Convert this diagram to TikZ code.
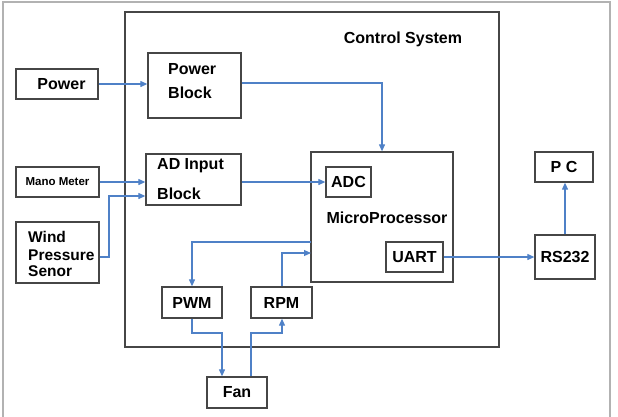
\documentclass[tikz,border=0pt]{standalone}
\usepackage{fontspec}
\setmainfont{Liberation Sans}
\usetikzlibrary{arrows.meta}
\definecolor{wire}{RGB}{79,129,199}
\definecolor{boxline}{RGB}{70,70,70}
\definecolor{framegray}{RGB}{178,178,178}
\tikzset{
  blk/.style={draw=boxline, line width=1.3pt, fill=white, inner sep=0pt,
    font=\bfseries\fontsize{16}{18}\selectfont, align=left},
  lbl/.style={inner sep=0pt, font=\bfseries\fontsize{16}{18}\selectfont},
  wireline/.style={draw=wire, line width=1.1pt},
  flow/.style={wireline, -{Triangle[length=7pt,width=6pt]}},
}
\begin{document}
\begin{tikzpicture}[x=1pt, y=-1pt]
  \useasboundingbox (0,0) rectangle (618,416);
  % outer frame and control system enclosure
  \draw[framegray, line width=1.8pt] (3,420) -- (3,2) -- (610,2) -- (610,420);
  \draw[boxline, line width=1.3pt] (125,12) rectangle (499,347);
  \node[lbl] (ctrl) at (403,39) {Control System};

  % blocks
  \node[blk, minimum width=82pt, minimum height=30pt] (power) at (57,84) {\hspace*{9pt}Power};
  \node[blk, minimum width=93pt, minimum height=65pt] (pblock) at (194.5,85.5) {};
  \node[lbl, anchor=west] (pblockA) at (168,69) {Power};
  \node[lbl, anchor=west] (pblockB) at (168,93) {Block};
  \node[blk, minimum width=83pt, minimum height=30pt,
        font=\bfseries\fontsize{11.5}{13}\selectfont] (mano) at (57.5,182) {Mano Meter};
  \node[blk, minimum width=95pt, minimum height=51pt] (adblock) at (193.5,179.5) {};
  \node[lbl, anchor=west] (adblockA) at (157,166) {AD Input};
  \node[lbl, anchor=west] (adblockB) at (157,194) {Block};
  \node[blk, minimum width=83pt, minimum height=61pt] (wind) at (57.5,252.5) {};
  \node[lbl, anchor=west, font=\bfseries\fontsize{15.5}{17}\selectfont] (windA) at (28,237) {Wind};
  \node[lbl, anchor=west, font=\bfseries\fontsize{15.5}{17}\selectfont] (windB) at (28,255) {Pressure};
  \node[lbl, anchor=west, font=\bfseries\fontsize{15.5}{17}\selectfont] (windC) at (28,271) {Senor};
  \node[blk, minimum width=142pt, minimum height=130pt] (mp) at (382,217) {};
  \node[lbl] (mptext) at (387,218) {MicroProcessor};
  \node[blk, minimum width=45pt, minimum height=30pt] (adc) at (348.5,182) {ADC};
  \node[blk, minimum width=57pt, minimum height=30pt] (uart) at (414.5,257) {UART};
  \node[blk, minimum width=58pt, minimum height=30pt] (pc) at (564,167) {P C};
  \node[blk, minimum width=60pt, minimum height=44pt] (rs) at (565,257) {RS232};
  \node[blk, minimum width=60pt, minimum height=31pt] (pwm) at (192,302.5) {PWM};
  \node[blk, minimum width=61pt, minimum height=31pt] (rpm) at (281.5,302.5) {RPM};
  \node[blk, minimum width=60pt, minimum height=31pt] (fan) at (237,392.5) {Fan};

  % bend points of the routed wires
  \coordinate (windbend) at (109,257);
  \coordinate (windin) at (109,196);
  \coordinate (mpout) at (311,242);
  \coordinate (pwmtop) at (192,242);
  \coordinate (mpin) at (311,253);
  \coordinate (rpmup) at (282,253);
  \coordinate (pwmdown) at (192,333);
  \coordinate (fanin) at (222,333);
  \coordinate (fanout) at (251,333);
  \coordinate (rpmdown) at (282,333);

  % connections
  \draw[flow] (power.east) -- (power.east -| pblock.west);
  \draw[flow] (pblock.east |- 0,83) -| (mp.north);
  \draw[flow] (mano.east) -- (mano.east -| adblock.west);
  \draw[flow] (wind.east |- windbend) -- (windbend) -- (windin) -- (windin -| adblock.west);
  \draw[flow] (adblock.east |- adc.west) -- (adc.west);
  \draw[flow] (mpout) -- (pwmtop) -- (pwm.north);
  \draw[flow] (rpm.north -| rpmup) -- (rpmup) -- (mpin);
  \draw[flow] (uart.east) -- (uart.east -| rs.west);
  \draw[flow] (rs.north -| 565,0) -- (pc.south -| 565,0);
  \draw[flow] (pwm.south) -- (pwmdown) -- (fanin) -- (fan.north -| fanin);
  \draw[flow] (fan.north -| fanout) -- (fanout) -- (rpmdown) -- (rpm.south -| rpmdown);
\end{tikzpicture}
\end{document}
